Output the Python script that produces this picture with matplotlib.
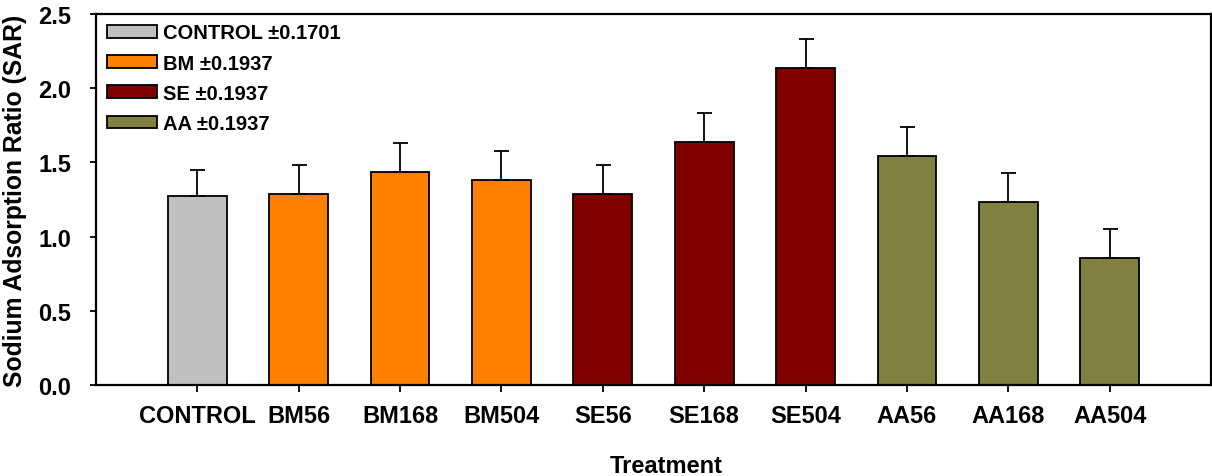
import matplotlib
matplotlib.use("Agg")
import matplotlib.pyplot as plt
from matplotlib.patches import Patch

categories = ["CONTROL", "BM56", "BM168", "BM504", "SE56", "SE168", "SE504", "AA56", "AA168", "AA504"]
groups = ["CONTROL", "BM", "BM", "BM", "SE", "SE", "SE", "AA", "AA", "AA"]
sar = [1.276, 1.289, 1.437, 1.383, 1.289, 1.640, 2.138, 1.545, 1.235, 0.858]
group_err = {"CONTROL": 0.1701, "BM": 0.1937, "SE": 0.1937, "AA": 0.1937}
group_colors = {"CONTROL": "#C0C0C0", "BM": "#FF8000", "SE": "#800000", "AA": "#808040"}
legend_labels = ["CONTROL \u00b10.1701", "BM \u00b10.1937", "SE \u00b10.1937", "AA \u00b10.1937"]
legend_groups = ["CONTROL", "BM", "SE", "AA"]
yticks = [0.0, 0.5, 1.0, 1.5, 2.0, 2.5]

plt.rcParams['font.family'] = ['Liberation Sans', 'DejaVu Sans']
plt.rcParams['font.weight'] = 'bold'
FS = 17
LFS = 14.5

fig = plt.figure(figsize=(12.12, 4.77), dpi=100)
ax = fig.add_axes([96/1212, 1 - 386/477, (1211-96)/1212, (386-15)/477])

x = list(range(len(categories)))
colors = [group_colors[g] for g in groups]
errs = [group_err[g] for g in groups]

ax.bar(x, sar, width=0.58, color=colors, edgecolor='black', linewidth=1.3, zorder=2)
ax.errorbar(x, sar, yerr=[[0]*len(x), errs], fmt='none', ecolor='black',
            elinewidth=1.3, capsize=5.4, capthick=1.3, zorder=3)

ax.set_xlim(-1, 10)
ax.set_ylim(0, 2.5)
ax.set_xticks(x)
ax.set_xticklabels(categories, fontsize=FS, fontweight='bold')
ax.set_yticks(yticks)
ax.set_yticklabels([f"{v:.1f}" for v in yticks], fontsize=FS, fontweight='bold')
ax.tick_params(axis='x', direction='out', length=5, width=1.3, pad=9)
ax.tick_params(axis='y', direction='out', length=4, width=1.3, pad=14)
for s in ax.spines.values():
    s.set_linewidth(1.6)

ax.set_xlabel("Treatment", fontsize=FS, fontweight='bold')
ax.xaxis.set_label_coords(0.511, -0.185)
ax.set_ylabel("Sodium Adsorption Ratio (SAR)", fontsize=17.8, fontweight='bold')
ax.yaxis.set_label_coords(-0.0615, 0.5)

handles = [Patch(facecolor=group_colors[g], edgecolor='black', linewidth=1.3) for g in legend_groups]
ax.legend(handles, legend_labels, loc='upper left', bbox_to_anchor=(0.0095, 0.975),
          frameon=False, prop={'weight': 'bold', 'size': LFS},
          handlelength=2.5, handleheight=0.6, handletextpad=0.3,
          labelspacing=0.56, borderpad=0, borderaxespad=0)

fig.savefig("out.png", dpi=100)
